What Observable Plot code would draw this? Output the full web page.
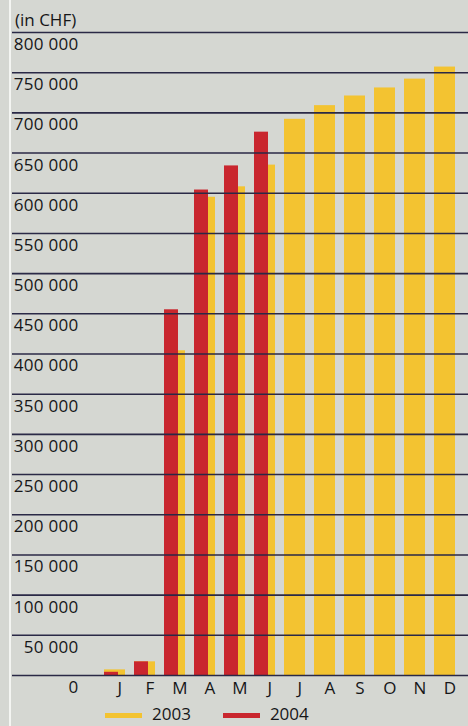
<!DOCTYPE html>
<html>
<head>
<meta charset="utf-8">
<script src="https://cdn.jsdelivr.net/npm/d3@7"></script>
<script src="https://cdn.jsdelivr.net/npm/@observablehq/plot@0.6"></script>
<style>
  html, body { margin: 0; padding: 0; background: #d5d7d2; }
  #wrap { position: relative; width: 468px; height: 726px; overflow: hidden; background: #d5d7d2;
          font-family: "Open Sans", sans-serif; color: #161618; }
  #title { position: absolute; left: 15px; top: 8px; font-size: 17px; line-height: 23px; }
  #edge { position: absolute; left: 9px; top: 0; width: 2px; height: 726px; background: #f4f5f2; }
  #legend { position: absolute; left: 105px; top: 702px; display: flex; align-items: center;
            font-size: 17px; line-height: 23px; }
  .sw { display: inline-block; width: 37px; height: 5px; margin-right: 10px; position: relative; top: 2px; }
  .lab { margin-right: 32px; }
  svg text { letter-spacing: 0.3px; }
</style>
</head>
<body>
<div id="wrap">
  <div id="chart"></div>
  <div id="edge"></div>
  <div id="title">(in CHF)</div>
  <div id="legend"></div>
</div>
<script>
const months = ["Jan","Feb","Mar","Apr","May","Jun","Jul","Aug","Sep","Oct","Nov","Dec"];
const monthLabels = ["J","F","M","A","M","J","J","A","S","O","N","D"];
const values2003 = [7000, 17000, 404000, 595000, 608000, 635000, 692000, 709000, 721000, 731000, 742000, 757000];
const months2004 = ["Jan","Feb","Mar","Apr","May","Jun"];
const values2004 = [4000, 17000, 455000, 604000, 634000, 676000];
const yTicks = [0, 50000, 100000, 150000, 200000, 250000, 300000, 350000, 400000, 450000, 500000, 550000, 600000, 650000, 700000, 750000, 800000];
const seriesNames = ["2003", "2004"];
const seriesColors = ["#f3c331", "#c9262e"];

const data2003 = months.map((m, i) => ({month: m, value: values2003[i]}));
const data2004 = months2004.map((m, i) => ({month: m, value: values2004[i]}));
const labelOf = Object.fromEntries(months.map((m, i) => [m, monthLabels[i]]));
const fmt = d => d3.format(",")(d).replace(/,/g, " ");

const chart = Plot.plot({
  width: 468,
  height: 726,
  marginTop: 32,
  marginBottom: 51,
  marginLeft: 12,
  marginRight: 0,
  style: {background: "transparent", fontFamily: "Open Sans, sans-serif", fontSize: "17px", color: "#161618"},
  x: {type: "band", domain: months, range: [104, 455], paddingInner: 0.3, paddingOuter: 0},
  y: {domain: [0, 800000]},
  marks: [
    Plot.barY(data2003, {x: "month", y: "value", fill: seriesColors[0]}),
    Plot.barY(data2004, {x: "month", y: "value", fill: seriesColors[1], insetRight: 7}),
    Plot.ruleY(yTicks, {stroke: "#2a2946", strokeWidth: 1.6}),
    Plot.axisY(yTicks, {anchor: "left", tickSize: 0, tickPadding: 0, dx: 66, dy: 12,
      tickFormat: fmt, fontSize: 17, fill: "#161618", label: null}),
    Plot.axisX({anchor: "bottom", tickSize: 0, tickPadding: 0, dx: 5, dy: 6,
      tickFormat: d => labelOf[d], fontSize: 17, fill: "#161618", label: null})
  ]
});
document.getElementById("chart").appendChild(chart);

const legend = document.getElementById("legend");
seriesNames.forEach((name, i) => {
  const sw = document.createElement("span");
  sw.className = "sw";
  sw.style.background = seriesColors[i];
  const lab = document.createElement("span");
  lab.className = "lab";
  lab.textContent = name;
  legend.appendChild(sw);
  legend.appendChild(lab);
});
</script>
</body>
</html>
